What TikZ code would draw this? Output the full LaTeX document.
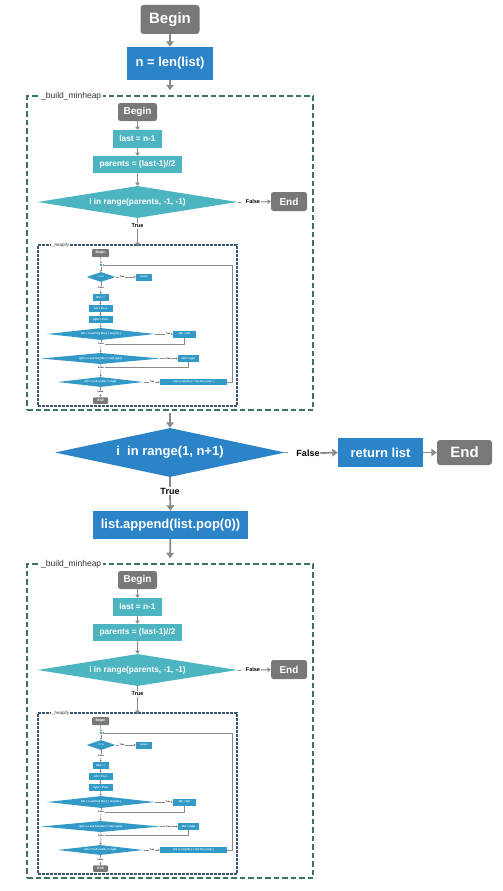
\documentclass[tikz,border=0pt]{standalone}
\usepackage{fontspec}
\setmainfont{Liberation Sans}
\usetikzlibrary{shapes.geometric,arrows.meta}
\definecolor{cgray}{HTML}{787878}
\definecolor{cblue}{HTML}{2B83C8}
\definecolor{cteal}{HTML}{4DB4C2}
\definecolor{chp}{HTML}{3399C6}
\definecolor{cgreen}{HTML}{3C735A}
\definecolor{cdash}{HTML}{3A5875}
\definecolor{carrow}{HTML}{8A8A8A}
\newcommand\fsz[1]{\fontsize{#1}{#1}\selectfont}
\tikzset{
  term/.style={inner sep=0pt, fill=cgray, text=white, rounded corners=2.5pt},
  proc/.style={inner sep=0pt, text=white},
  dec/.style={diamond, aspect=5, inner sep=0pt, text=white},
  lab/.style={inner sep=0.6pt, text=black},
  arrA/.style={draw=carrow, line width=1.8pt, -{Triangle[width=7.5pt,length=5.5pt]}},
  lnA/.style={draw=carrow, line width=1.8pt},
  arrB/.style={draw=carrow, line width=1pt, -{Triangle[width=4.5pt,length=3.2pt]}},
  lnB/.style={draw=carrow, line width=1pt},
  arrC/.style={draw=carrow, line width=0.5pt, -{Triangle[width=2.2pt,length=1.7pt]}},
  lnC/.style={draw=carrow, line width=0.5pt},
  bbox/.style={draw=cgreen, line width=1.5pt, dash pattern=on 5.5pt off 3pt, inner sep=0pt},
  hbox/.style={draw=cdash, line width=1.2pt, dash pattern=on 2.6pt off 1.4pt, inner sep=0pt},
}
\newcommand\buildblock[2]{%
\begin{scope}[shift={(0,#1)}, name prefix=#2-]
  \node[bbox, minimum width=286pt, minimum height=314pt] (box) at (170,253) {};
  \node[anchor=west, fill=white, inner sep=2pt, text=black!80, font=\fsz{8.5}] (title) at (39,96) {\_build\_minheap};
  \node[term, minimum width=39pt, minimum height=18pt, font=\fsz{10}\bfseries] (beg) at (137.5,112) {Begin};
  \node[proc, fill=cteal, minimum width=49pt, minimum height=18pt, font=\fsz{8.3}\bfseries] (last) at (137.5,139) {last = n-1};
  \node[proc, fill=cteal, minimum width=89pt, minimum height=17pt, font=\fsz{8.3}\bfseries] (par) at (137.5,164.5) {parents = (last-1)//2};
  \node[dec, fill=cteal, minimum width=200pt, minimum height=32pt, font=\fsz{8.3}\bfseries] (d) at (137.5,202) {i in range(parents, -1, -1)};
  \node[lab, font=\fsz{5.5}\bfseries] (f) at (253,202) {False};
  \node[term, minimum width=36pt, minimum height=19pt, font=\fsz{10}\bfseries] (end) at (289,201.5) {End};
  \node[lab, font=\fsz{5.5}\bfseries] (t) at (137.5,226) {True};
  \draw[arrB] (beg) -- (last);
  \draw[arrB] (last) -- (par);
  \draw[arrB] (par) -- (d);
  \draw[lnB] (d.east) -- ++(3,0);
  \draw[arrB] (f.east) -- (end.west);
  \draw[lnB] (d.south) -- (t.north);
  % heapify
  \node[hbox, minimum width=199pt, minimum height=161pt] (hb) at (137.5,325.5) {};
  \draw[arrB] (t.south) -- ([yshift=-1.5pt]hb.north);
  \node[anchor=west, fill=white, inner sep=1pt, text=black!80, font=\fsz{4.5}] (htitle) at (51,245) {\_heapify};
  \node[term, rounded corners=1pt, minimum width=17pt, minimum height=8pt, font=\fsz{3.6}\bfseries] (hbeg) at (100.5,253) {Begin};
  \node[circle, fill=chp, inner sep=0pt, minimum size=2.6pt] (j) at (101,265) {};
  \node[dec, fill=chp, minimum width=29pt, minimum height=10pt, font=\fsz{2.4}\bfseries] (d1) at (101,277) {i >= n};
  \node[lab, font=\fsz{2.2}\bfseries] (t1) at (122,277) {True};
  \node[proc, fill=chp, minimum width=16pt, minimum height=7pt, font=\fsz{2.6}\bfseries] (ret) at (144,277) {return};
  \node[lab, font=\fsz{2.2}\bfseries] (f1) at (101,288) {False};
  \node[proc, fill=chp, minimum width=16pt, minimum height=7pt, font=\fsz{2.6}\bfseries] (mi) at (100.5,297.5) {Min = i};
  \node[proc, fill=chp, minimum width=24pt, minimum height=7pt, font=\fsz{2.6}\bfseries] (le) at (100.5,308.5) {left = 2*i+1};
  \node[proc, fill=chp, minimum width=24pt, minimum height=7pt, font=\fsz{2.6}\bfseries] (ri) at (100.5,319.5) {right = 2*i+2};
  \node[dec, fill=chp, minimum width=108pt, minimum height=12pt, font=\fsz{2.6}\bfseries] (d2) at (101,334) {left {<} n and list[ Min ] > list[ left ]};
  \node[lab, font=\fsz{2.2}\bfseries] (t2) at (168,334) {True};
  \node[proc, fill=chp, minimum width=23pt, minimum height=7pt, font=\fsz{2.6}\bfseries] (ml) at (184.5,334) {Min = left};
  \node[lab, font=\fsz{2.2}\bfseries] (f2) at (101,344) {False};
  \node[dec, fill=chp, minimum width=119pt, minimum height=11pt, font=\fsz{2.6}\bfseries] (d3) at (100.5,358.5) {right {<} n and list[ Min ] > list[ right ]};
  \node[lab, font=\fsz{2.2}\bfseries] (t3) at (168,358.5) {True};
  \node[proc, fill=chp, minimum width=21pt, minimum height=7pt, font=\fsz{2.6}\bfseries] (mr) at (188.5,358.5) {Min = right};
  \node[lab, font=\fsz{2.2}\bfseries] (f3) at (101,367.5) {False};
  \node[dec, fill=chp, minimum width=86pt, minimum height=10pt, font=\fsz{2.6}\bfseries] (d4) at (100.5,382) {Min == left or Min == right};
  \node[lab, font=\fsz{2.2}\bfseries] (t4) at (152,382) {True};
  \node[proc, fill=chp, minimum width=67pt, minimum height=6.5pt, font=\fsz{2.4}\bfseries] (sw) at (193.5,382) {list[ i ], list[ Min ] = list[ Min ], list[ i ]};
  \node[lab, font=\fsz{2.2}\bfseries] (f4) at (100.5,392) {False};
  \node[term, rounded corners=1pt, minimum width=15pt, minimum height=6.5pt, font=\fsz{3.4}\bfseries] (hend) at (100.5,400.5) {End};
  \coordinate (lc) at (232,265);
  \draw[arrC] (hbeg) -- (j);
  \draw[arrC] (j) -- (d1);
  \draw[lnC] (d1.east) -- (t1.west);
  \draw[arrC] (t1.east) -- (ret.west);
  \draw[lnC] (d1.south) -- (f1.north);
  \draw[arrC] (f1.south) -- (mi.north);
  \draw[arrC] (mi) -- (le);
  \draw[arrC] (le) -- (ri);
  \draw[arrC] (ri) -- (d2);
  \draw[lnC] (d2.east) -- (t2.west);
  \draw[arrC] (t2.east) -- (ml.west);
  \draw[lnC] (d2.south) -- (f2.north);
  \draw[lnC] (ml.south) |- (f2.east);
  \draw[arrC] (f2.south) -- (d3.north);
  \draw[lnC] (d3.east) -- (t3.west);
  \draw[arrC] (t3.east) -- (mr.west);
  \draw[lnC] (d3.south) -- (f3.north);
  \draw[lnC] (mr.south) |- (f3.east);
  \draw[arrC] (f3.south) -- (d4.north);
  \draw[lnC] (d4.east) -- (t4.west);
  \draw[arrC] (t4.east) -- (sw.west);
  \draw[lnC] (d4.south) -- (f4.north);
  \draw[arrC] (f4.south) -- (hend.north);
  \draw[arrC] (sw.east) -| (lc) -- (j);
\end{scope}}
\begin{document}
\begin{tikzpicture}[x=1pt,y=-1pt]
  \useasboundingbox (0,0) rectangle (503,891);
  \node[term, rounded corners=3pt, minimum width=59pt, minimum height=29pt, font=\fsz{15}\bfseries] (begin) at (170,19.5) {Begin};
  \node[proc, fill=cblue, minimum width=86pt, minimum height=33pt, font=\fsz{13}\bfseries] (n) at (170,63.5) {n = len(list)};
  \draw[arrA] (begin) -- (n);
  \buildblock{0}{A}
  \draw[arrA, shorten >=5pt] (n) -- (A-box.north);
  \node[dec, fill=cblue, minimum width=230pt, minimum height=49pt, font=\fsz{13}\bfseries] (md) at (170,452.5) {i~ in range(1, n+1)};
  \draw[arrA, shorten <=2pt] (A-box.south) -- (md.north);
  \node[lab, font=\fsz{9}\bfseries] (mf) at (308,453) {False};
  \node[proc, fill=cblue, minimum width=85pt, minimum height=29pt, font=\fsz{13}\bfseries] (rl) at (380.5,452.5) {return list};
  \node[term, rounded corners=3pt, minimum width=55pt, minimum height=25pt, font=\fsz{15}\bfseries] (mend) at (464.5,452.5) {End};
  \draw[lnA] (md.east) -- ++(3,0);
  \draw[arrA] (mf.east) -- (rl.west);
  \draw[arrA] (rl.east) -- (mend.west);
  \node[lab, font=\fsz{9}\bfseries] (mt) at (170,491) {True};
  \draw[lnA] (md.south) -- (mt.north);
  \node[proc, fill=cblue, minimum width=155pt, minimum height=28pt, font=\fsz{13}\bfseries] (app) at (170.5,525) {list.append(list.pop(0))};
  \draw[arrA] (mt.south) -- (app.north);
  \buildblock{468}{B}
  \draw[arrA, shorten >=5pt] (app) -- (B-box.north);
\end{tikzpicture}
\end{document}
